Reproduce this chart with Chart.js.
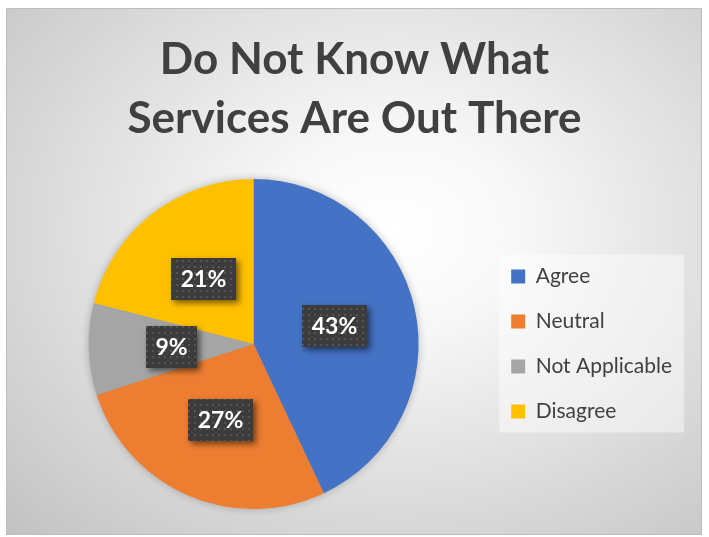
<!DOCTYPE html>
<html><head><meta charset="utf-8">
<script src="https://cdn.jsdelivr.net/npm/chart.js@4"></script>
<style>
html,body{margin:0;padding:0;background:#fff;}
#wrap{position:relative;width:709px;height:537px;overflow:hidden;}
#frame{position:absolute;left:6px;top:8px;width:694px;height:525px;border:1px solid #bdbdbd;
background:radial-gradient(ellipse farthest-corner at 56% 42%, #ffffff 0%, #f8f8f8 22%, #c2c2c2 100%);}
canvas{position:absolute;left:0;top:0;}
</style></head>
<body><div id="wrap"><div id="frame"></div><canvas id="c" width="709" height="537"></canvas></div>
<script>
const categories = ['Agree', 'Neutral', 'Not Applicable', 'Disagree'];
const values = [43, 27, 9, 21];
const colors = ['#4472C4', '#ED7D31', '#A5A5A5', '#FFC000'];
const titleLines = ['Do Not Know What', 'Services Are Out There'];

// dotted dark pattern for data label boxes
const pc = document.createElement('canvas');
pc.width = 6; pc.height = 6;
const pctx = pc.getContext('2d');
pctx.fillStyle = '#3c3c3c'; pctx.fillRect(0, 0, 6, 6);
pctx.fillStyle = '#545454'; pctx.fillRect(2, 2, 2, 2);

const ctxMain = document.getElementById('c').getContext('2d');
const pattern = ctxMain.createPattern(pc, 'repeat');

const helpers = {
  id: 'helpers',
  afterLayout(chart) {
    if (chart.titleBlock) { chart.titleBlock.left = 0; chart.titleBlock.right = chart.width; }
  },
  beforeDraw(chart) {
    const lg = chart.legend;
    if (!lg || !lg.legendHitBoxes || !lg.legendHitBoxes.length) return;
    const hb = lg.legendHitBoxes;
    let l = Infinity, t = Infinity, r = -Infinity, b = -Infinity;
    hb.forEach(h => { l = Math.min(l, h.left); t = Math.min(t, h.top); r = Math.max(r, h.left + h.width); b = Math.max(b, h.top + h.height); });
    const c = chart.ctx;
    c.save();
    c.fillStyle = 'rgba(255,255,255,0.45)';
    c.fillRect(l - 12, t - 11.5, (r - l) + 24, (b - t) + 22);
    c.restore();
  },
  beforeDatasetsDraw(chart) {
    const arc = chart.getDatasetMeta(0).data[0];
    if (!arc) return;
    const c = chart.ctx;
    c.save();
    c.shadowColor = 'rgba(0,0,0,0.3)';
    c.shadowBlur = 10;
    c.fillStyle = '#999';
    c.beginPath(); c.arc(arc.x, arc.y, arc.outerRadius - 1, 0, Math.PI * 2); c.fill();
    c.restore();
  },
  afterDatasetsDraw(chart) {
    const c = chart.ctx;
    const meta = chart.getDatasetMeta(0);
    c.save();
    c.font = 'bold 23px Lato';
    meta.data.forEach((arc, i) => {
      const p = arc.tooltipPosition(true);
      const txt = values[i] + '%';
      const w = Math.round(c.measureText(txt).width + 19), h = 42;
      const x = Math.round(p.x - w / 2), y = Math.round(p.y - h / 2);
      c.save();
      c.shadowColor = 'rgba(0,0,0,0.55)';
      c.shadowBlur = 6; c.shadowOffsetX = 3; c.shadowOffsetY = 3;
      c.fillStyle = pattern;
      c.fillRect(x, y, w, h);
      c.restore();
      c.fillStyle = '#ffffff';
      c.textAlign = 'center'; c.textBaseline = 'middle';
      c.fillText(txt, x + w / 2, y + h / 2 + 1);
    });
    c.restore();
  }
};

new Chart(ctxMain, {
  type: 'pie',
  data: {
    labels: categories,
    datasets: [{ data: values, backgroundColor: colors, borderWidth: 0 }]
  },
  options: {
    responsive: false,
    animation: false,
    layout: { padding: { top: 10, left: 20, right: 27, bottom: 28 } },
    plugins: {
      tooltip: { enabled: false },
      title: {
        display: true,
        text: titleLines,
        color: '#404040',
        font: { family: 'Lato', weight: 'bold', size: 44, lineHeight: 59 / 44 },
        padding: { top: 20, bottom: 31 }
      },
      legend: {
        position: 'right',
        fullSize: false,
        align: 'center',
        labels: {
          color: '#404040',
          font: { family: 'Lato', size: 21 },
          boxWidth: 14, boxHeight: 14,
          padding: 24
        }
      }
    }
  },
  plugins: [helpers]
});
</script>
</body></html>
